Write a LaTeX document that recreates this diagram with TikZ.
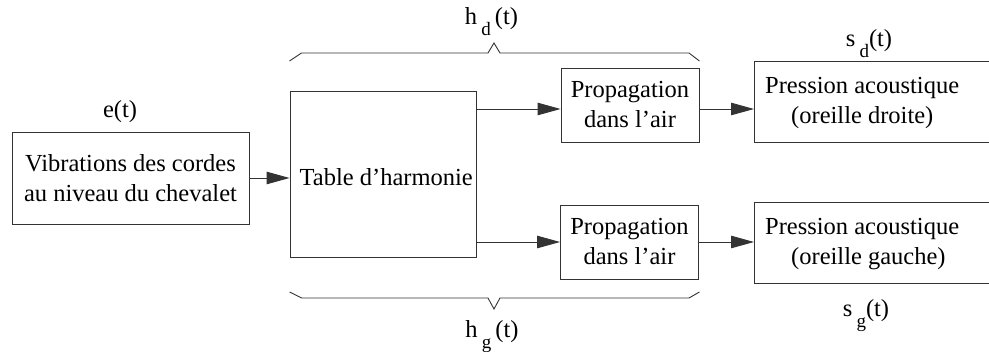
\documentclass[tikz,border=0pt]{standalone}
\usepackage{fontspec}
\setmainfont{Liberation Serif}
\usetikzlibrary{arrows.meta}
\newcommand{\mysub}[1]{\raisebox{-0.42em}{\fontsize{19}{19}\selectfont #1}}
\begin{document}
\begin{tikzpicture}[x=1pt,y=-1pt,
  txt/.style={inner sep=0pt, font=\fontsize{24.5}{30}\selectfont},
  box/.style={txt, draw=black!80, line width=0.9pt, align=center},
  arr/.style={draw=black!80, line width=0.9pt, -{Triangle[length=23pt,width=12.5pt]}},
  brace/.style={draw=black!80, line width=0.9pt, line join=miter}]
\useasboundingbox (0,0) rectangle (989,352);
\clip (0,0) rectangle (989,352);
% boxes
\node[box, minimum width=237pt, minimum height=92pt] (vib) at (130.5,178) {Vibrations des cordes\\au niveau du chevalet};
\node[box, minimum width=186pt, minimum height=166pt] (tab) at (383,174) {};
\node[txt, anchor=east] (tabtxt) at (473,177) {Table d'harmonie};
\node[box, minimum width=138pt, minimum height=74pt] (p1) at (630,105) {Propagation\\dans l'air};
\node[box, minimum width=138pt, minimum height=74pt] (p2) at (629.5,242) {Propagation\\dans l'air};
\node[box, anchor=west, minimum width=260pt, minimum height=81pt] (s1) at (754,101.5) {};
\node[box, anchor=west, minimum width=260pt, minimum height=81pt] (s2) at (754,242.5) {};
\node[txt, anchor=west, align=left] (s1txt) at (765,103) {Pression acoustique\\\hspace*{26pt}(oreille droite)};
\node[txt, anchor=west, align=left] (s2txt) at (765,244) {Pression acoustique\\\hspace*{26pt}(oreille gauche)};
% labels
\node[txt] (e) at (120,112) {e(t)};
\node[txt, anchor=base] (hd) at (491.5,25) {h\,\mysub{d}\,(t)};
\node[txt, anchor=base] (hg) at (492,338) {h\,\mysub{g}\,(t)};
\node[txt, anchor=base] (sd) at (869,47) {s\,\mysub{d}(t)};
\node[txt, anchor=base] (sg) at (866,317) {s\,\mysub{g}(t)};
% connectors
\coordinate (r1) at (0,109);
\coordinate (r2) at (0,242);
\draw[arr] (vib.east) -- (vib.east -| tab.west);
\draw[arr] (tab.east |- r1) -- (p1.west |- r1);
\draw[arr] (p1.east |- r1) -- (s1.west |- r1);
\draw[arr] (tab.east |- r2) -- (p2.west |- r2);
\draw[arr] (p2.east |- r2) -- (s2.west |- r2);
% braces
\draw[brace] (tab.west |- 0,61) -- ++(12,-8) -- (488,53) -- (494,43) -- (500,53) -- (689,53) -- (p1.east |- 0,61);
\draw[brace] (tab.west |- 0,292) -- ++(12,6) -- (488,298) -- (494,309) -- (500,298) -- (689,298) -- (p1.east |- 0,292);
\end{tikzpicture}
\end{document}
